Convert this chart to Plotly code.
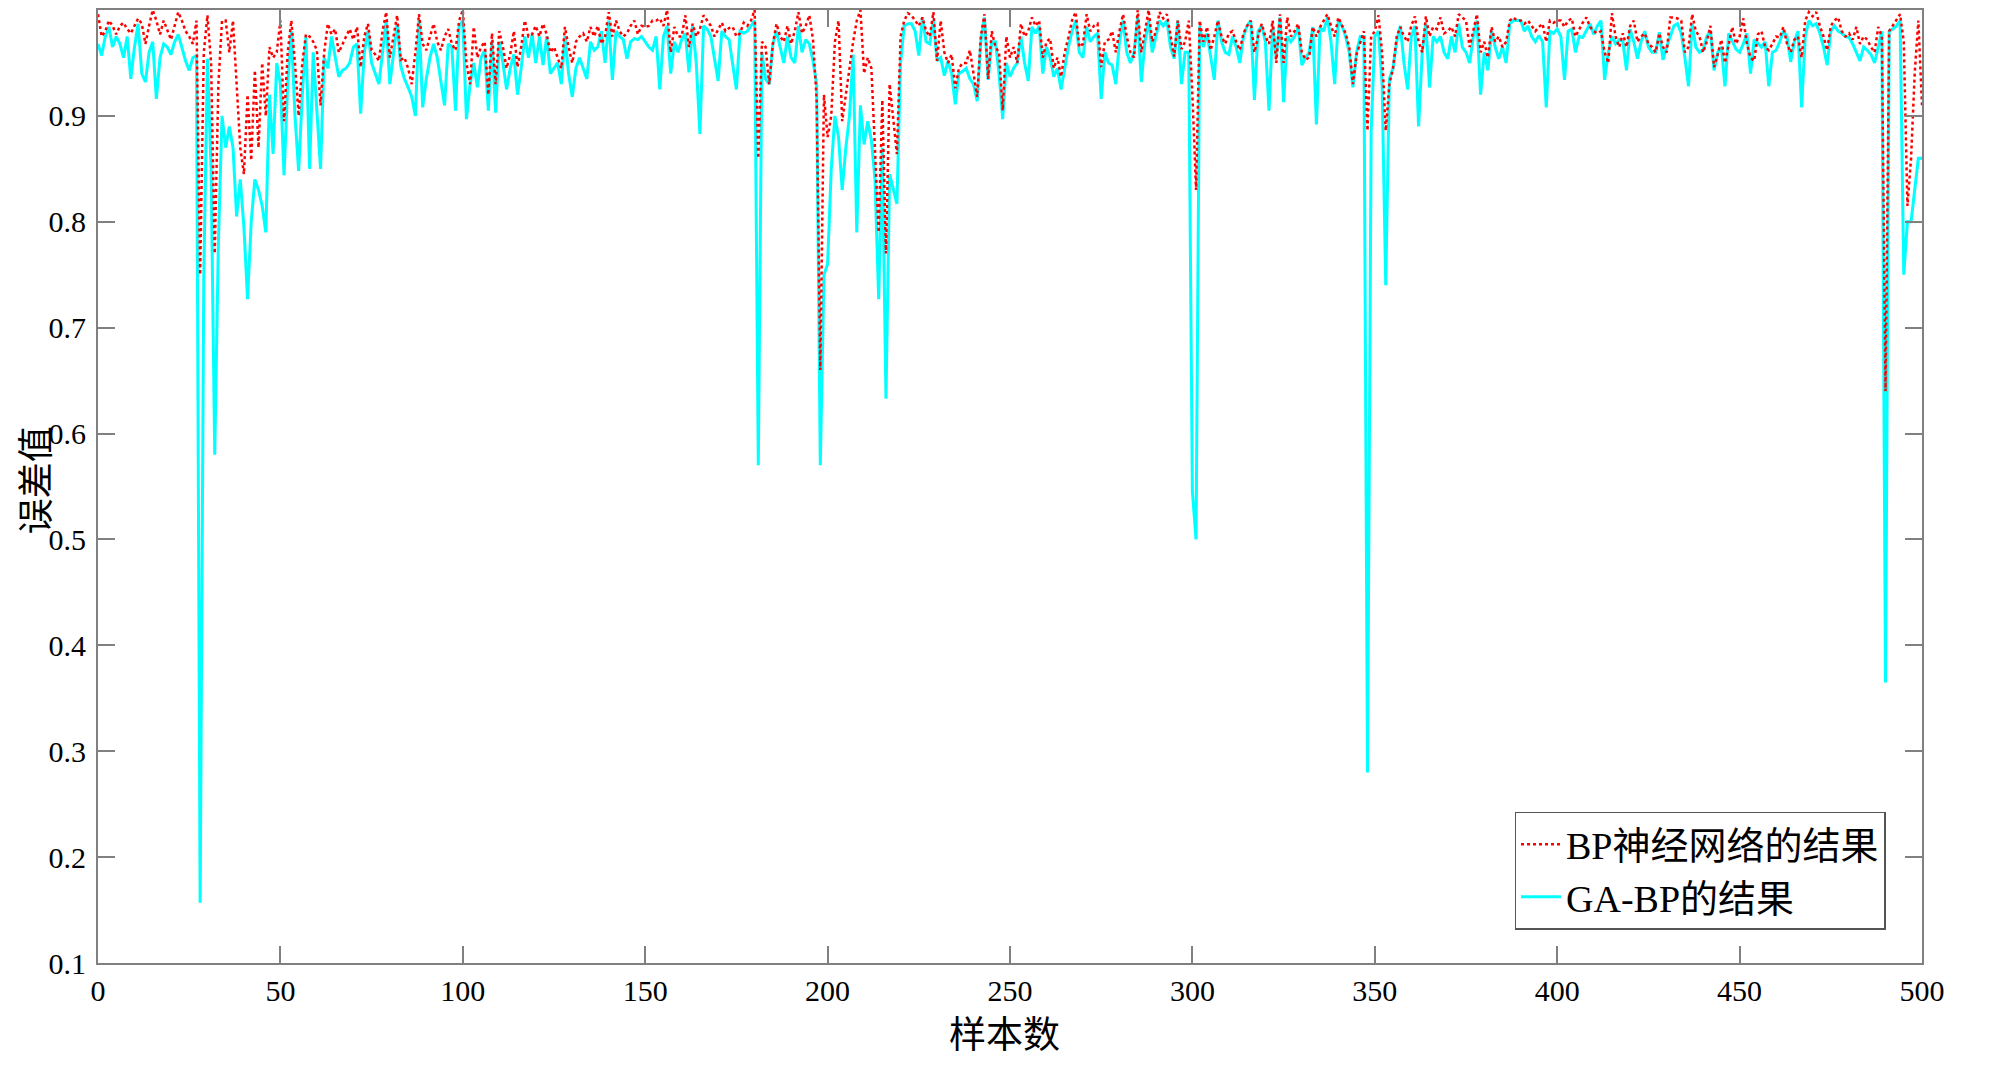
import plotly.graph_objects as go

# sample index 0..500
samples = list(range(501))

# BP neural network result (red dotted)
bp_values = [
    # 0-49
    0.996, 0.975, 0.98, 0.99, 0.985, 0.977, 0.985, 0.988, 0.982, 0.978,
    0.985, 0.992, 0.987, 0.968, 0.985, 1.0, 0.99, 0.977, 0.99, 0.98,
    0.972, 0.985, 0.998, 0.99, 0.98, 0.975, 0.968, 0.99, 0.75, 0.96,
    0.995, 0.95, 0.77, 0.93, 0.99, 0.99, 0.96, 0.99, 0.93, 0.87,
    0.845, 0.92, 0.858, 0.943, 0.87, 0.95, 0.9, 0.965, 0.955, 0.96,
    # 50-99
    0.99, 0.895, 0.96, 0.99, 0.95, 0.9, 0.95, 0.977, 0.975, 0.97,
    0.962, 0.91, 0.96, 0.987, 0.977, 0.982, 0.96, 0.968, 0.975, 0.982,
    0.972, 0.984, 0.946, 0.975, 0.987, 0.962, 0.958, 0.952, 0.98, 0.998,
    0.955, 0.975, 0.995, 0.953, 0.955, 0.945, 0.93, 0.96, 0.996, 0.968,
    0.962, 0.975, 0.987, 0.97, 0.962, 0.975, 0.982, 0.968, 0.962, 0.99,
    # 100-149
    1.0, 0.95, 0.93, 0.984, 0.955, 0.965, 0.97, 0.92, 0.978, 0.93,
    0.98, 0.965, 0.945, 0.958, 0.98, 0.946, 0.965, 0.99, 0.975, 0.977,
    0.985, 0.975, 0.987, 0.977, 0.96, 0.965, 0.955, 0.945, 0.984, 0.965,
    0.95, 0.97, 0.975, 0.978, 0.97, 0.984, 0.975, 0.985, 0.968, 0.975,
    0.998, 0.975, 0.99, 0.98, 0.975, 0.978, 0.985, 0.99, 0.977, 0.985,
    # 150-199
    0.984, 0.985, 0.99, 0.99, 0.992, 0.985, 1.0, 0.96, 0.984, 0.975,
    0.975, 0.995, 0.965, 0.987, 0.975, 0.982, 0.995, 0.99, 0.985, 0.975,
    0.982, 0.988, 0.98, 0.983, 0.984, 0.975, 0.978, 0.988, 0.985, 0.99,
    1.0, 0.86, 0.97, 0.965, 0.93, 0.968, 0.987, 0.975, 0.97, 0.985,
    0.968, 0.98, 0.998, 0.978, 0.985, 0.995, 0.972, 0.915, 0.66, 0.92,
    # 200-249
    0.88, 0.9, 0.97, 0.99, 0.895, 0.92, 0.95, 0.97, 0.99, 1.0,
    0.94, 0.955, 0.945, 0.87, 0.79, 0.915, 0.77, 0.93, 0.9, 0.864,
    0.975, 0.99, 0.997, 0.995, 0.99, 0.985, 0.993, 0.98, 0.975, 0.998,
    0.952, 0.99, 0.96, 0.95, 0.958, 0.926, 0.945, 0.95, 0.95, 0.962,
    0.94, 0.918, 0.975, 0.996, 0.935, 0.98, 0.965, 0.96, 0.905, 0.975,
    # 250-299
    0.955, 0.965, 0.95, 0.987, 0.975, 0.98, 0.993, 0.985, 0.99, 0.955,
    0.97, 0.973, 0.945, 0.955, 0.937, 0.96, 0.974, 0.99, 0.998, 0.965,
    0.968, 0.996, 0.98, 0.985, 0.987, 0.946, 0.97, 0.972, 0.98, 0.96,
    0.98, 0.996, 0.975, 0.96, 0.955, 1.0, 0.96, 0.98, 1.0, 0.97,
    0.98, 0.998, 0.992, 0.996, 0.975, 0.956, 0.99, 0.963, 0.97, 0.99,
    # 300-349
    0.92, 0.83, 0.99, 0.97, 0.984, 0.962, 0.975, 0.99, 0.975, 0.968,
    0.978, 0.98, 0.97, 0.962, 0.978, 0.985, 0.99, 0.96, 0.975, 0.987,
    0.975, 0.968, 0.99, 0.95, 0.996, 0.95, 0.993, 0.975, 0.98, 0.987,
    0.96, 0.953, 0.955, 0.984, 0.975, 0.984, 0.99, 0.996, 0.985, 0.975,
    0.993, 0.985, 0.978, 0.965, 0.93, 0.958, 0.97, 0.98, 0.886, 0.975,
    # 350-399
    0.98, 0.995, 0.96, 0.886, 0.93, 0.945, 0.975, 0.984, 0.975, 0.97,
    0.985, 0.994, 0.97, 0.96, 0.994, 0.975, 0.984, 0.982, 0.993, 0.978,
    0.98, 0.984, 0.975, 0.996, 0.993, 0.99, 0.965, 0.98, 0.996, 0.96,
    0.97, 0.955, 0.984, 0.97, 0.975, 0.965, 0.97, 0.99, 0.993, 0.99,
    0.99, 0.987, 0.99, 0.985, 0.98, 0.984, 0.987, 0.97, 0.99, 0.988,
    # 400-449
    0.99, 0.99, 0.984, 0.99, 0.992, 0.975, 0.982, 0.988, 0.993, 0.984,
    0.98, 0.978, 0.98, 0.96, 0.95, 0.997, 0.975, 0.965, 0.978, 0.965,
    0.985, 0.99, 0.97, 0.975, 0.978, 0.968, 0.965, 0.96, 0.978, 0.965,
    0.96, 0.993, 0.993, 0.992, 0.99, 0.96, 0.965, 0.996, 0.98, 0.975,
    0.96, 0.97, 0.985, 0.946, 0.958, 0.972, 0.95, 0.968, 0.984, 0.968,
    # 450-500
    0.975, 0.992, 0.968, 0.955, 0.952, 0.977, 0.98, 0.965, 0.962, 0.968,
    0.975, 0.974, 0.984, 0.968, 0.96, 0.972, 0.975, 0.955, 0.99, 0.998,
    0.994, 0.998, 0.985, 0.975, 0.962, 0.985, 0.99, 0.993, 0.98, 0.975,
    0.978, 0.972, 0.984, 0.968, 0.975, 0.972, 0.965, 0.96, 0.984, 0.975,
    0.64, 0.98, 0.985, 0.99, 0.996, 0.97, 0.815, 0.86, 0.94, 0.99,
    0.91,
]

# GA-BP result (cyan solid)
gabp_values = [
    # 0-49
    0.968, 0.957, 0.975, 0.984, 0.965, 0.975, 0.968, 0.955, 0.975, 0.935,
    0.965, 0.987, 0.94, 0.932, 0.96, 0.97, 0.916, 0.955, 0.968, 0.965,
    0.958, 0.97, 0.977, 0.965, 0.952, 0.943, 0.955, 0.957, 0.157, 0.75,
    0.954, 0.85, 0.58, 0.78, 0.9, 0.87, 0.89, 0.87, 0.805, 0.84,
    0.795, 0.727, 0.8, 0.84, 0.83, 0.815, 0.79, 0.92, 0.864, 0.95,
    # 50-99
    0.93, 0.844, 0.93, 0.98, 0.9, 0.848, 0.92, 0.975, 0.85, 0.96,
    0.9, 0.85, 0.955, 0.945, 0.975, 0.955, 0.937, 0.943, 0.945, 0.95,
    0.965, 0.968, 0.902, 0.96, 0.98, 0.95, 0.94, 0.93, 0.96, 0.99,
    0.93, 0.96, 0.987, 0.947, 0.935, 0.927, 0.918, 0.9, 0.99, 0.908,
    0.935, 0.955, 0.968, 0.955, 0.93, 0.91, 0.968, 0.965, 0.905, 0.985,
    # 100-149
    0.99, 0.897, 0.93, 0.95, 0.927, 0.955, 0.962, 0.905, 0.97, 0.903,
    0.97, 0.95, 0.925, 0.945, 0.958, 0.92, 0.945, 0.975, 0.955, 0.977,
    0.95, 0.975, 0.948, 0.975, 0.94, 0.945, 0.95, 0.93, 0.975, 0.94,
    0.918, 0.945, 0.955, 0.945, 0.935, 0.97, 0.962, 0.965, 0.98, 0.95,
    0.99, 0.934, 0.98, 0.975, 0.972, 0.954, 0.97, 0.973, 0.972, 0.975,
    # 150-199
    0.97, 0.965, 0.962, 0.975, 0.925, 0.975, 0.985, 0.94, 0.97, 0.96,
    0.972, 0.978, 0.941, 0.985, 0.95, 0.883, 0.985, 0.982, 0.975, 0.955,
    0.933, 0.98, 0.975, 0.972, 0.95, 0.925, 0.98, 0.978, 0.98, 0.985,
    0.99, 0.57, 0.96, 0.935, 0.93, 0.968, 0.98, 0.965, 0.95, 0.975,
    0.955, 0.95, 0.985, 0.96, 0.972, 0.968, 0.952, 0.93, 0.57, 0.75,
    # 200-249
    0.76, 0.85, 0.9, 0.88, 0.83, 0.87, 0.9, 0.958, 0.79, 0.91,
    0.873, 0.895, 0.877, 0.84, 0.727, 0.87, 0.633, 0.845, 0.83, 0.817,
    0.95, 0.985, 0.987, 0.987, 0.98, 0.957, 0.993, 0.97, 0.968, 0.99,
    0.952, 0.955, 0.938, 0.952, 0.94, 0.911, 0.94, 0.942, 0.945, 0.935,
    0.93, 0.914, 0.97, 0.993, 0.934, 0.97, 0.97, 0.94, 0.897, 0.95,
    # 250-299
    0.937, 0.945, 0.95, 0.975, 0.95, 0.933, 0.984, 0.978, 0.985, 0.94,
    0.965, 0.955, 0.937, 0.945, 0.925, 0.945, 0.965, 0.98, 0.99, 0.96,
    0.955, 0.984, 0.97, 0.975, 0.978, 0.916, 0.96, 0.95, 0.948, 0.93,
    0.97, 0.99, 0.96, 0.95, 0.96, 0.993, 0.932, 0.97, 0.99, 0.96,
    0.975, 0.99, 0.985, 0.99, 0.965, 0.954, 0.99, 0.93, 0.96, 0.96,
    # 300-349
    0.545, 0.5, 0.985, 0.965, 0.978, 0.955, 0.934, 0.99, 0.97, 0.96,
    0.958, 0.975, 0.965, 0.95, 0.975, 0.985, 0.99, 0.915, 0.98, 0.985,
    0.97, 0.905, 0.985, 0.955, 0.993, 0.913, 0.975, 0.97, 0.975, 0.984,
    0.948, 0.955, 0.96, 0.984, 0.892, 0.984, 0.98, 0.993, 0.97, 0.93,
    0.99, 0.985, 0.975, 0.96, 0.927, 0.96, 0.975, 0.975, 0.28, 0.885,
    # 350-399
    0.975, 0.98, 0.93, 0.74, 0.935, 0.945, 0.97, 0.985, 0.95, 0.925,
    0.975, 0.985, 0.89, 0.96, 0.987, 0.927, 0.975, 0.97, 0.975, 0.96,
    0.954, 0.975, 0.96, 0.987, 0.965, 0.96, 0.95, 0.975, 0.99, 0.92,
    0.96, 0.943, 0.98, 0.965, 0.954, 0.965, 0.95, 0.987, 0.99, 0.99,
    0.99, 0.98, 0.985, 0.975, 0.97, 0.976, 0.97, 0.908, 0.98, 0.978,
    # 400-449
    0.982, 0.975, 0.934, 0.98, 0.982, 0.96, 0.975, 0.974, 0.98, 0.987,
    0.977, 0.985, 0.99, 0.934, 0.96, 0.975, 0.968, 0.972, 0.97, 0.943,
    0.982, 0.97, 0.954, 0.97, 0.98, 0.965, 0.96, 0.96, 0.979, 0.953,
    0.965, 0.975, 0.985, 0.987, 0.978, 0.955, 0.928, 0.987, 0.965, 0.96,
    0.962, 0.975, 0.98, 0.943, 0.96, 0.965, 0.928, 0.978, 0.97, 0.963,
    # 450-500
    0.96, 0.968, 0.978, 0.94, 0.972, 0.968, 0.965, 0.97, 0.928, 0.96,
    0.962, 0.97, 0.98, 0.975, 0.951, 0.97, 0.98, 0.908, 0.975, 0.99,
    0.985, 0.987, 0.978, 0.965, 0.948, 0.98, 0.985, 0.98, 0.978, 0.975,
    0.974, 0.968, 0.96, 0.952, 0.965, 0.962, 0.958, 0.95, 0.965, 0.98,
    0.365, 0.98, 0.982, 0.985, 0.99, 0.75, 0.8, 0.8, 0.83, 0.86,
    0.86,
]

x_tick_vals = [0, 50, 100, 150, 200, 250, 300, 350, 400, 450, 500]
y_tick_vals = [0.1, 0.2, 0.3, 0.4, 0.5, 0.6, 0.7, 0.8, 0.9, 1.0]
y_tick_text = ["0.1", "0.2", "0.3", "0.4", "0.5", "0.6", "0.7", "0.8", "0.9", "1"]

series_names = ["BP神经网络的结果", "GA-BP的结果"]
x_title = "样本数"
y_title = "误差值"

font_latin = "Liberation Serif, Times New Roman, Noto Sans CJK SC, serif"
font_cjk = "Noto Sans CJK SC, sans-serif"

fig = go.Figure()
fig.add_trace(go.Scatter(
    x=samples, y=gabp_values, mode="lines", name=series_names[1],
    line=dict(color="#00FFFF", width=3), legendrank=2,
))
fig.add_trace(go.Scatter(
    x=samples, y=bp_values, mode="lines", name=series_names[0],
    line=dict(color="#FF0000", width=2.5, dash="dot"), legendrank=1,
))

axis_common = dict(
    showline=True, linecolor="#808080", linewidth=2, mirror="ticks",
    ticks="inside", ticklen=17, tickwidth=2, tickcolor="#808080",
    showgrid=False, zeroline=False, automargin=False,
    tickfont=dict(family=font_latin, size=30, color="black"),
)

fig.update_layout(
    width=2000, height=1071,
    margin=dict(l=90, r=86, t=2, b=116),
    paper_bgcolor="white", plot_bgcolor="white",
    showlegend=True,
    legend=dict(
        x=0.98, xanchor="right", y=0.035, yanchor="bottom",
        bgcolor="white", bordercolor="#555555", borderwidth=1.5,
        font=dict(family=font_latin, size=38, color="black"),
        tracegroupgap=0, itemwidth=40,
    ),
    xaxis=dict(range=[0, 500], tickvals=x_tick_vals, **axis_common),
    yaxis=dict(
        range=[0.1, 1.0], tickvals=y_tick_vals, ticktext=y_tick_text,
        ticklabelstandoff=4, **axis_common,
    ),
    annotations=[
        dict(text=x_title, xref="paper", yref="paper", x=0.497, y=-0.072,
             xanchor="center", yanchor="middle", showarrow=False,
             font=dict(family=font_cjk, size=37, color="black")),
        dict(text=y_title, xref="paper", yref="paper", x=-0.036, y=0.507,
             xanchor="center", yanchor="middle", showarrow=False, textangle=-90,
             font=dict(family=font_cjk, size=36, color="black")),
    ],
)

fig.write_html("out.html")
